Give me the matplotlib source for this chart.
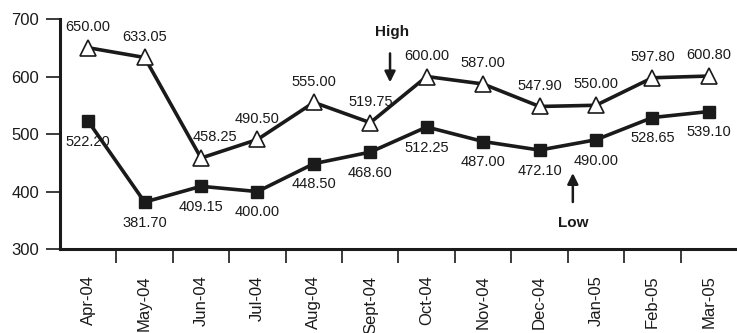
import matplotlib.pyplot as plt
import numpy as np

plt.rcParams['font.family'] = ['Liberation Sans', 'DejaVu Sans']

months = ['Apr-04', 'May-04', 'Jun-04', 'Jul-04', 'Aug-04', 'Sept-04',
          'Oct-04', 'Nov-04', 'Dec-04', 'Jan-05', 'Feb-05', 'Mar-05']
high = [650.00, 633.05, 458.25, 490.50, 555.00, 519.75,
        600.00, 587.00, 547.90, 550.00, 597.80, 600.80]
low = [522.20, 381.70, 409.15, 400.00, 448.50, 468.60,
       512.25, 487.00, 472.10, 490.00, 528.65, 539.10]

x = np.arange(len(months))

fig = plt.figure(figsize=(7.37, 3.33), dpi=100)
ax = fig.add_axes([0.0814, 0.252, 0.9186, 0.691])

ax.plot(x, high, color='#1a1a1a', lw=2.6, marker='^', markersize=11,
        markerfacecolor='white', markeredgecolor='#1a1a1a', markeredgewidth=1.2,
        zorder=3)
ax.plot(x, low, color='#1a1a1a', lw=2.6, marker='s', markersize=8.5,
        markerfacecolor='#1a1a1a', markeredgecolor='#1a1a1a', zorder=3)

# value labels
for i, v in enumerate(high):
    dx = 10 if i == 2 else 0
    ax.annotate(f'{v:.2f}', (i, v), xytext=(dx, 15), textcoords='offset points',
                ha='center', va='center', fontsize=10.5, color='#1a1a1a')
for i, v in enumerate(low):
    ax.annotate(f'{v:.2f}', (i, v), xytext=(0, -15), textcoords='offset points',
                ha='center', va='center', fontsize=10.5, color='#1a1a1a')

# High / Low callouts
ax.annotate('', xy=(5.35, 585), xytext=(5.35, 645),
            arrowprops=dict(arrowstyle='-|>', color='#1a1a1a', lw=1.8,
                            mutation_scale=16))
ax.text(5.38, 677, 'High', ha='center', va='center', fontsize=11,
        fontweight='bold', color='#1a1a1a')
ax.annotate('', xy=(8.59, 437), xytext=(8.59, 377),
            arrowprops=dict(arrowstyle='-|>', color='#1a1a1a', lw=1.8,
                            mutation_scale=16))
ax.text(8.59, 345, 'Low', ha='center', va='center', fontsize=11,
        fontweight='bold', color='#1a1a1a')

ax.set_xlim(-0.5, 11.5)
ax.set_ylim(300, 700)
ax.set_yticks([300, 400, 500, 600, 700])
ax.set_xticks(x)
ax.set_xticklabels(months, rotation=90, fontsize=12)
ax.set_xticks(x[:-1] + 0.5, minor=True)
ax.tick_params(axis='x', which='major', length=0, pad=19, colors='#1a1a1a')
ax.tick_params(axis='x', which='minor', length=10, width=1.2, direction='out',
               color='#1a1a1a')
ax.tick_params(axis='y', length=10, width=1.2, pad=5, labelsize=12,
               colors='#1a1a1a')

for s in ['top', 'right']:
    ax.spines[s].set_visible(False)
for s in ['left', 'bottom']:
    ax.spines[s].set_linewidth(2.2)
    ax.spines[s].set_color('#1a1a1a')

fig.savefig('out.png', dpi=100)
